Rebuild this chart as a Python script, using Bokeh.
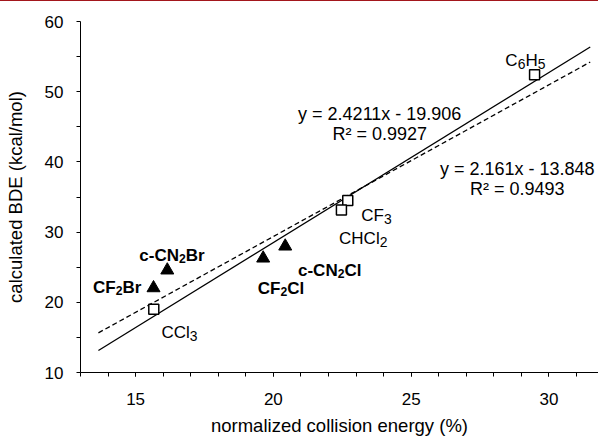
import re
from bokeh.plotting import figure
from bokeh.models import ColumnDataSource, FixedTicker, Range1d, Label
from bokeh.embed import file_html
from bokeh.resources import INLINE
from bokeh.core.properties import value

# ---------------- data ----------------
known_names = ["C6H5", "CF3", "CHCl2", "CCl3"]
known_energy = [29.48, 22.70, 22.47, 15.66]
known_bde = [52.42, 34.50, 33.15, 19.02]

new_names = ["CF2Br", "c-CN2Br", "CF2Cl", "c-CN2Cl"]
new_energy = [15.65, 16.15, 19.63, 20.43]
new_bde = [22.04, 24.57, 26.27, 27.98]

fit_slope = [2.4211, 2.161]
fit_intercept = [-19.906, -13.848]
fit_span = [13.65, 31.5]
fit_eq = ["y = 2.4211x - 19.906", "y = 2.161x - 13.848"]
fit_r2 = ["R\u00b2 = 0.9927", "R\u00b2 = 0.9493"]

x_major = [15, 20, 25, 30]
x_minor = [13, 14, 15, 16, 17, 18, 19, 20, 21, 22, 23, 24, 25, 26, 27, 28, 29, 30, 31]
y_major = [10, 20, 30, 40, 50, 60]
y_minor = [15, 25, 35, 45, 55]

# ---------------- styling / layout ----------------
FONT = "Liberation Sans"
LABEL_FS = 17
# label placement: (centre offset px, baseline offset px) relative to the marker
label_pos = {
    "C6H5": (-9.2, -14.2), "CF3": (28.7, 15.0), "CHCl2": (21.8, 28.8), "CCl3": (25.7, 23.0),
    "CF2Br": (-36.3, -0.8), "c-CN2Br": (4.7, -14.7), "CF2Cl": (17.8, 30.5), "c-CN2Cl": (44.5, 24.2),
}
# equation text anchors (data units): x centre, baseline line 1, baseline line 2
eq_pos = [(23.86, 46.85, 44.0), (28.85, 39.02, 36.17)]

REG_W = {"C": 0.722, "H": 0.722, "F": 0.611, "l": 0.222, "B": 0.667, "r": 0.333, "N": 0.722, "c": 0.5, "-": 0.333}
BOLD_W = {"C": 0.722, "H": 0.722, "F": 0.611, "l": 0.278, "B": 0.722, "r": 0.389, "N": 0.722, "c": 0.556, "-": 0.333}
DIGIT_W = 0.556

p = figure(width=598, height=438, output_backend="svg", toolbar_location=None,
           x_range=Range1d(13, 31.8), y_range=Range1d(10, 60),
           min_border_left=80, min_border_right=0, min_border_top=21, min_border_bottom=66,
           background_fill_color="white", border_fill_color=None)
# thin dark-red rule along the very top edge of the picture
p.styles = {"box-shadow": "inset 0 1px 0 0 #a3161c", "background-color": "white"}
p.outline_line_color = None
p.grid.visible = False

p.xaxis.ticker = FixedTicker(ticks=x_major, minor_ticks=x_minor)
p.yaxis.ticker = FixedTicker(ticks=y_major, minor_ticks=y_minor)
p.xaxis.axis_label = "normalized collision energy (%)"
p.yaxis.axis_label = "calculated BDE (kcal/mol)"
for ax in (p.xaxis[0], p.yaxis[0]):
    ax.major_tick_in = 0
    ax.major_tick_out = 4
    ax.minor_tick_in = 0
    ax.minor_tick_out = 4
    ax.axis_line_color = "black"
    ax.major_tick_line_color = "black"
    ax.minor_tick_line_color = "black"
    ax.major_label_text_font = FONT
    ax.major_label_text_font_size = "17px"
    ax.major_label_text_color = "black"
    ax.axis_label_text_font = FONT
    ax.axis_label_text_font_size = "18.5px"
    ax.axis_label_text_font_style = "normal"
    ax.axis_label_text_color = "black"
p.xaxis.major_label_standoff = 16
p.xaxis.axis_label_standoff = 7
p.yaxis.major_label_standoff = 13
p.yaxis.axis_label_standoff = 16

# regression lines
for m, b, dash in zip(fit_slope, fit_intercept, ["solid", "5 3"]):
    xs = list(fit_span)
    ys = [m * v + b for v in xs]
    p.line(xs, ys, line_color="black", line_width=1.3, line_dash=dash)

# markers
p.scatter(known_energy, known_bde, marker="square", size=10, line_color="black",
          line_width=1.5, fill_color="white")
p.scatter(new_energy, new_bde, marker="triangle", size=13, line_color="black",
          line_width=1, fill_color="black")


def build_labels(names, xs, ys, bold):
    rows = dict(x=[], y=[], xo=[], yo=[], text=[], size=[])
    wt = BOLD_W if bold else REG_W
    sub_ratio, sub_drop = (0.72, 3.0) if bold else (0.82, 3.5)
    for name, px, py in zip(names, xs, ys):
        segs = [(s, s.isdigit()) for s in re.findall(r"\d+|\D+", name)]
        widths = []
        for s, sub in segs:
            fs = LABEL_FS * sub_ratio if sub else LABEL_FS
            widths.append(sum(DIGIT_W if ch.isdigit() else wt.get(ch, 0.6) for ch in s) * fs)
        dx, dy = label_pos[name]
        cur = dx - sum(widths) / 2
        for (s, sub), w in zip(segs, widths):
            fs = LABEL_FS * sub_ratio if sub else LABEL_FS
            rows["x"].append(px)
            rows["y"].append(py)
            rows["xo"].append(cur)
            rows["yo"].append(dy + (sub_drop if sub else 0))
            rows["text"].append(s)
            rows["size"].append(f"{fs:.1f}px")
            cur += w
    return ColumnDataSource(rows)


for names, xs, ys, bold in [(known_names, known_energy, known_bde, False),
                            (new_names, new_energy, new_bde, True)]:
    src = build_labels(names, xs, ys, bold)
    p.text(x="x", y="y", text="text", x_offset="xo", y_offset="yo", source=src,
           text_font=value(FONT), text_font_size="size",
           text_font_style="bold" if bold else "normal",
           text_align="left", text_baseline="alphabetic", text_color="black")

# equations
for (ex, ey1, ey2), t1, t2 in zip(eq_pos, fit_eq, fit_r2):
    for ey, t in ((ey1, t1), (ey2, t2)):
        p.add_layout(Label(x=ex, y=ey, text=t, text_font=FONT, text_font_size="18px",
                           text_align="center", text_baseline="alphabetic", text_color="black"))

open("out.html", "w").write(file_html(p, INLINE))
